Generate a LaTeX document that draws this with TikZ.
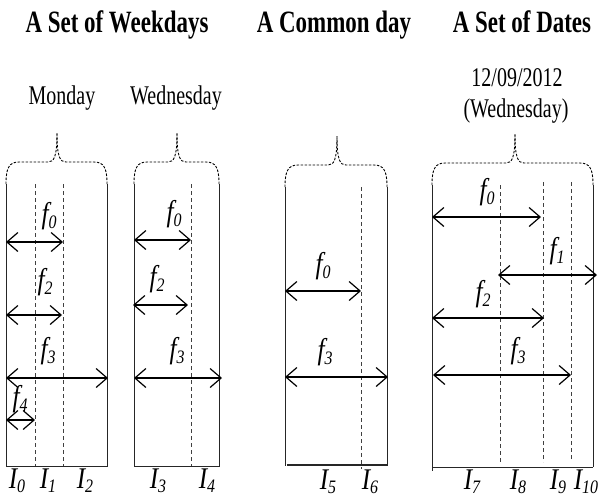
\documentclass[tikz,border=0pt]{standalone}
\usepackage{fontspec}
\setmainfont[FakeStretch=0.74]{Liberation Serif}
\newfontfamily\labfont[FakeStretch=0.84]{Liberation Serif}
\usetikzlibrary{arrows.meta}
\newcommand\lbl[2]{{\labfont\fontsize{30}{30}\selectfont\itshape #1\raisebox{-5.5pt}{\fontsize{19}{19}\selectfont #2}}}
\newcommand\ilbl[2]{{\labfont\fontsize{30}{30}\selectfont\itshape #1\raisebox{-4pt}{\fontsize{19}{19}\selectfont #2}}}
\newcommand\wbrace[4]{%
  \draw[brace] (#1,#4+22) .. controls (#1,#4+6) and (#1+3,#4) .. (#1+13,#4) -- (#3-9,#4) .. controls (#3-3,#4) and (#3,#4-5) .. (#3,#4-29);
  \draw[brace] (#2,#4+22) .. controls (#2,#4+6) and (#2-3,#4) .. (#2-13,#4) -- (#3+9,#4) .. controls (#3+3,#4) and (#3,#4-5) .. (#3,#4-29);}
\begin{document}
\begin{tikzpicture}[x=1pt,y=-1pt,
  side/.style={line width=1pt, black!85},
  guide/.style={line width=0.9pt, dash pattern=on 4pt off 3pt, black!75},
  brace/.style={line width=0.9pt, dash pattern=on 2.5pt off 1.5pt},
  span/.style={line width=1.2pt, {Straight Barb[length=11pt,width=19pt]}-{Straight Barb[length=11pt,width=19pt]}},
  title/.style={font=\fontsize{31}{31}\selectfont\bfseries, inner sep=0, anchor=base},
  txt/.style={font=\fontsize{27}{27}\selectfont, inner sep=0, anchor=base},
  lab/.style={inner sep=0, anchor=base},
  ilab/.style={inner sep=0, anchor=base}]
\useasboundingbox (0,0) rectangle (598,499);

% titles
\node[title] (t1) at (117,32) {A Set of Weekdays};
\node[title] (t2) at (334,32) {A Common day};
\node[title] (t3) at (522,32) {A Set of Dates};
\node[txt] (mon) at (62,104) {Monday};
\node[txt] (wed) at (176,104) {Wednesday};
\node[txt] (date) at (517,86) {12/09/2012};
\node[txt] (dwed) at (516,117) {(Wednesday)};

% braces
\wbrace{6}{107}{57}{162}
\wbrace{134}{219}{177}{162}
\wbrace{285}{387}{337}{165}
\wbrace{432}{593}{515}{163}

% box 1
\draw[side] (6,184) -- (6,466) -- (107,466) -- (107,184);
\draw[guide] (35,184) -- (35,466);
\draw[guide] (63,184) -- (63,466);
% box 2
\draw[side] (134,184) -- (134,466) -- (219,466) -- (219,184);
\draw[guide] (191,184) -- (191,466);
% box 3
\draw[side] (285,187) -- (285,466);
\draw[side] (387,187) -- (387,466);
\draw[side, line width=1.4pt] (287,465) -- (387,465);
\draw[guide] (361,187) -- (361,469);
% box 4
\draw[side] (432,185) -- (432,471);
\draw[side] (593,185) -- (593,467);
\draw[side] (432,467) -- (593,467);
\draw[guide] (500,185) -- (500,462);
\draw[guide] (543,182) -- (543,462);
\draw[guide] (571,182) -- (571,460);

% arrow end points
\coordinate (a1l) at (6,242);  \coordinate (a1r) at (63,242);
\coordinate (b1l) at (6,315);  \coordinate (b1r) at (62,315);
\coordinate (c1l) at (6,378);  \coordinate (c1r) at (108,378);
\coordinate (d1l) at (6,420);  \coordinate (d1r) at (35,420);
\coordinate (a2l) at (134,240); \coordinate (a2r) at (191,240);
\coordinate (b2l) at (133,305); \coordinate (b2r) at (188,305);
\coordinate (c2l) at (134,378); \coordinate (c2r) at (222,378);
\coordinate (a3l) at (285,291); \coordinate (a3r) at (361,291);
\coordinate (c3l) at (285,377); \coordinate (c3r) at (388,377);
\coordinate (a4l) at (432,217); \coordinate (a4r) at (541,217);
\coordinate (e4l) at (498,275); \coordinate (e4r) at (597,275);
\coordinate (b4l) at (432,318); \coordinate (b4r) at (544,318);
\coordinate (c4l) at (433,375); \coordinate (c4r) at (571,375);

\draw[span] (a1l) -- (a1r);
\draw[span] (b1l) -- (b1r);
\draw[span] (c1l) -- (c1r);
\draw[span] (d1l) -- (d1r);
\draw[span] (a2l) -- (a2r);
\draw[span] (b2l) -- (b2r);
\draw[span] (c2l) -- (c2r);
\draw[span] (a3l) -- (a3r);
\draw[span] (c3l) -- (c3r);
\draw[span] (a4l) -- (a4r);
\draw[span] (e4l) -- (e4r);
\draw[span] (b4l) -- (b4r);
\draw[span] (c4l) -- (c4r);

% f labels (base line)
\node[lab] (f01) at (49,223) {\lbl{f}{0}};
\node[lab] (f21) at (45,289) {\lbl{f}{2}};
\node[lab] (f31) at (48,358) {\lbl{f}{3}};
\node[lab] (f41) at (20,406) {\lbl{f}{4}};
\node[lab] (f02) at (174,221) {\lbl{f}{0}};
\node[lab] (f22) at (157,286) {\lbl{f}{2}};
\node[lab] (f32) at (177,358) {\lbl{f}{3}};
\node[lab] (f03) at (323,273) {\lbl{f}{0}};
\node[lab] (f33) at (325,359) {\lbl{f}{3}};
\node[lab] (f04) at (487,199) {\lbl{f}{0}};
\node[lab] (f14) at (557,258) {\lbl{f}{1}};
\node[lab] (f24) at (483,301) {\lbl{f}{2}};
\node[lab] (f34) at (518,358) {\lbl{f}{3}};

% I labels
\node[ilab] (i0) at (17,488) {\ilbl{I}{0}};
\node[ilab] (i1) at (48,488) {\ilbl{I}{1}};
\node[ilab] (i2) at (85,488) {\ilbl{I}{2}};
\node[ilab] (i3) at (158,488) {\ilbl{I}{3}};
\node[ilab] (i4) at (207,488) {\ilbl{I}{4}};
\node[ilab] (i5) at (328,489) {\ilbl{I}{5}};
\node[ilab] (i6) at (370,489) {\ilbl{I}{6}};
\node[ilab] (i7) at (472,489) {\ilbl{I}{7}};
\node[ilab] (i8) at (518,489) {\ilbl{I}{8}};
\node[ilab] (i9) at (558,489) {\ilbl{I}{9}};
\node[ilab] (i10) at (586,489) {\ilbl{I}{10}};
\end{tikzpicture}
\end{document}
